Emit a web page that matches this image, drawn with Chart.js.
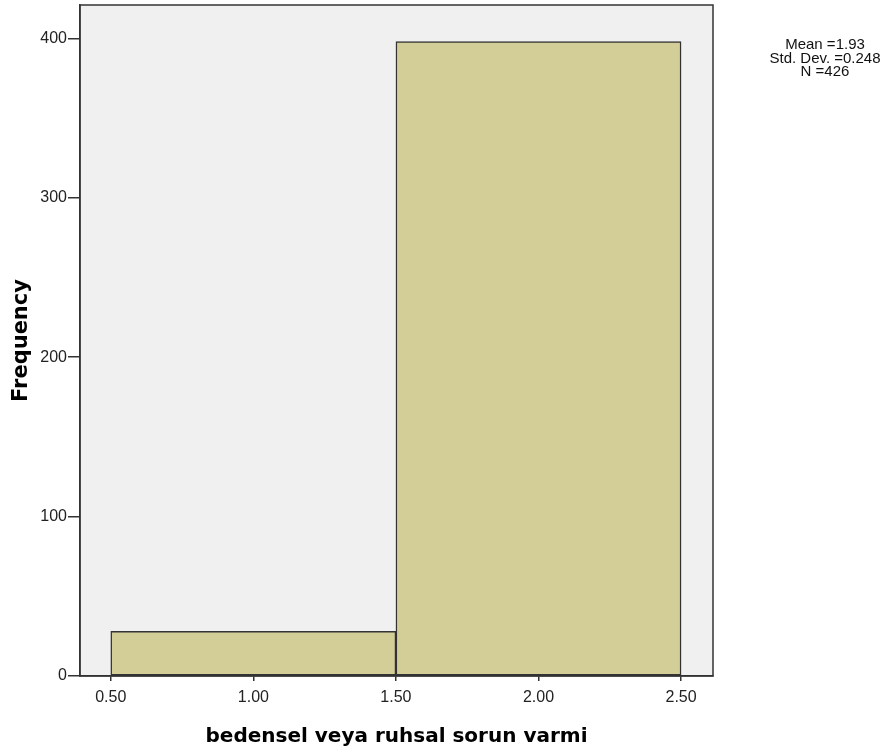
<!DOCTYPE html>
<html>
<head>
<meta charset="utf-8">
<script src="https://cdn.jsdelivr.net/npm/chart.js@4.4.1/dist/chart.umd.min.js"></script>
<style>
  html, body { margin: 0; padding: 0; background: #ffffff; }
  #wrap { position: relative; width: 894px; height: 753px; }
</style>
</head>
<body>
<div id="wrap"><canvas id="c" width="894" height="753"></canvas></div>
<script>
// ---- data ----
const binCenters = [1.0, 2.0];
const frequencies = [28, 398];
const xTickValues = [0.5, 1.0, 1.5, 2.0, 2.5];
const yTickValues = [0, 100, 200, 300, 400];
const xAxisTitle = 'bedensel veya ruhsal sorun varmi';
const yAxisTitle = 'Frequency';
const statsLines = ['Mean =1.93', 'Std. Dev. =0.248', 'N =426'];

const xMin = 0.392, xMax = 2.612, yMax = 421;

const frameColor = '#333333';
const tickFont = { family: '"Liberation Sans", Arial, sans-serif', size: 16 };

const framePlugin = {
  id: 'frame',
  beforeDraw(chart) {
    const a = chart.chartArea, ctx = chart.ctx;
    ctx.save();
    ctx.fillStyle = '#f0f0f0';
    ctx.fillRect(a.left, a.top, a.right - a.left, a.bottom - a.top);
    ctx.restore();
  },
  afterDraw(chart) {
    const a = chart.chartArea, ctx = chart.ctx;
    ctx.save();
    ctx.strokeStyle = frameColor;
    ctx.lineWidth = 1.5;
    ctx.strokeRect(a.left, a.top, a.right - a.left, a.bottom - a.top);
    // stats text
    ctx.fillStyle = '#111111';
    ctx.font = '15px "Liberation Sans", Arial, sans-serif';
    ctx.textAlign = 'center';
    ctx.textBaseline = 'middle';
    const cx = a.right + 112;
    statsLines.forEach((t, i) => ctx.fillText(t, cx, 45 + i * 13.5));
    ctx.restore();
  }
};

new Chart(document.getElementById('c'), {
  type: 'bar',
  data: {
    datasets: [{
      data: binCenters.map((x, i) => ({ x: x, y: frequencies[i] })),
      xAxisID: 'xh',
      backgroundColor: '#d3ce98',
      borderColor: frameColor,
      borderWidth: 1.5,
      borderSkipped: false,
      barPercentage: 1,
      categoryPercentage: 1
    }]
  },
  options: {
    responsive: false,
    animation: false,
    devicePixelRatio: 1,
    layout: { padding: { left: 0, right: 181, top: 5, bottom: 0 } },
    plugins: { legend: { display: false }, tooltip: { enabled: false } },
    scales: {
      xh: {
        type: 'linear', axis: 'x', position: 'bottom', display: false,
        min: xMin, max: xMax, offset: false,
        grid: { offset: false },
        ticks: { stepSize: 1, includeBounds: false }
      },
      x: {
        type: 'linear', position: 'bottom',
        min: xMin, max: xMax, offset: false,
        afterBuildTicks: s => { s.ticks = xTickValues.map(v => ({ value: v })); },
        afterFit: s => { s.height = 77; s.paddingLeft = 0; s.paddingRight = 0; },
        grid: { offset: false, drawOnChartArea: false, drawTicks: true, tickLength: 5, color: frameColor, lineWidth: 1.5 },
        border: { display: true, color: frameColor, width: 1.5 },
        ticks: {
          padding: 7, maxRotation: 0, autoSkip: false,
          color: '#222222',
          font: tickFont,
          callback: v => Number(v).toFixed(2)
        },
        title: {
          display: true, text: xAxisTitle, color: '#000000',
          font: { family: '"DejaVu Sans", Verdana, sans-serif', size: 20, weight: 'bold' },
          padding: { top: 4, bottom: 4 }
        }
      },
      y: {
        type: 'linear', min: 0, max: yMax,
        afterBuildTicks: s => { s.ticks = yTickValues.map(v => ({ value: v })); },
        afterFit: s => { s.width = 80; s.paddingTop = 0; s.paddingBottom = 0; },
        grid: { drawOnChartArea: false, drawTicks: true, tickLength: 12, color: frameColor, lineWidth: 1.5 },
        border: { display: true, color: frameColor, width: 1.5 },
        ticks: {
          padding: 1, color: '#222222',
          font: tickFont
        },
        title: {
          display: true, text: yAxisTitle, color: '#000000',
          font: { family: '"DejaVu Sans", Verdana, sans-serif', size: 21, weight: 'bold' },
          padding: { top: 9, bottom: 4 }
        }
      }
    }
  },
  plugins: [framePlugin]
});
</script>
</body>
</html>
